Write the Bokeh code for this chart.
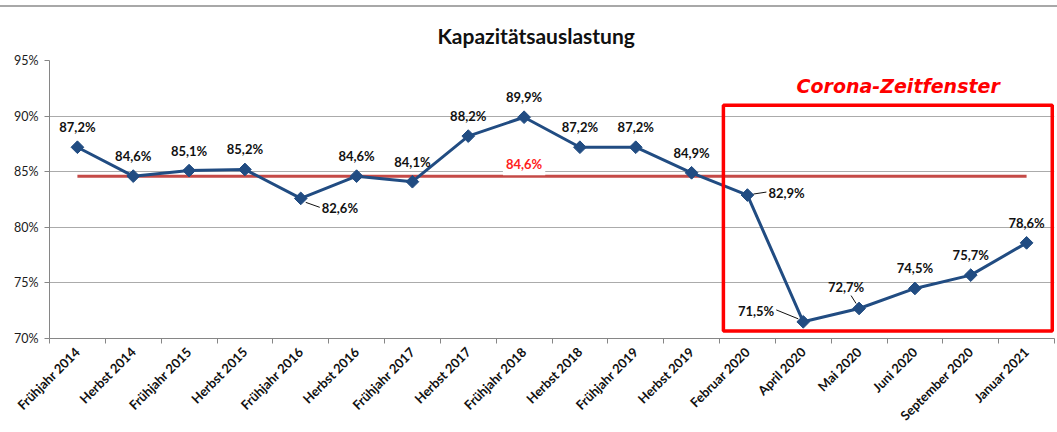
import math
from bokeh.plotting import figure
from bokeh.models import (ColumnDataSource, FixedTicker, PrintfTickFormatter,
                          Label, BoxAnnotation, Range1d)
from bokeh.core.properties import value
from bokeh.embed import file_html
from bokeh.resources import INLINE

# ---------------- data ----------------
categories = ["Frühjahr 2014", "Herbst 2014", "Frühjahr 2015", "Herbst 2015",
              "Frühjahr 2016", "Herbst 2016", "Frühjahr 2017", "Herbst 2017",
              "Frühjahr 2018", "Herbst 2018", "Frühjahr 2019", "Herbst 2019",
              "Februar 2020", "April 2020", "Mai 2020", "Juni 2020",
              "September 2020", "Januar 2021"]
values = [87.2, 84.6, 85.1, 85.2, 82.6, 84.6, 84.1, 88.2, 89.9,
          87.2, 87.2, 84.9, 82.9, 71.5, 72.7, 74.5, 75.7, 78.6]
mean_value = 84.6
y_ticks = [70, 75, 80, 85, 90, 95]
title_text = "Kapazitätsauslastung"
corona_text = "Corona-Zeitfenster"

# ---------------- layout ----------------
W, H = 1057, 432
B_LEFT, B_RIGHT, B_TOP, B_BOTTOM = 49, 3, 60, 92
FONT = "Lato"
BLUE = "#214C82"
GRID = "#ABABAB"

n = len(categories)
xs = [i + 0.5 for i in range(n)]
px_x = (W - B_LEFT - B_RIGHT) / n
px_y = (H - B_TOP - B_BOTTOM) / (y_ticks[-1] - y_ticks[0])

def fmt(v):
    return ("%.1f" % v).replace(".", ",") + "%"

labels = [fmt(v) for v in values]

# label placement (screen px, +dy = down)
dx = [0] * n
dy = [-20] * n
align = ["center"] * n
special = {4: (21, 10, "left"), 12: (21, -2, "left"),
           13: (-29, -11, "right"), 14: (-13, -21, "center")}
for i, (a, b, c) in special.items():
    dx[i], dy[i], align[i] = a, b, c
# leader lines (px offsets from point)
leaders = {4: ((5, 4), (19, 9)), 12: ((6, -1), (19, -3)),
           13: ((-5, -3), (-27, -12)), 14: ((-3, -5), (-8, -13))}

p = figure(width=W, height=H, output_backend="svg", toolbar_location=None,
           x_range=Range1d(0, n), y_range=Range1d(y_ticks[0], y_ticks[-1]),
           min_border_left=B_LEFT, min_border_right=B_RIGHT,
           min_border_top=B_TOP, min_border_bottom=B_BOTTOM,
           background_fill_color="white", border_fill_color=None,
           title=title_text)
p.styles = {"background": "linear-gradient(to bottom, #ffffff 0px, #ffffff 5px, "
                          "#A8A8A8 5px, #A8A8A8 7px, #ffffff 7px, #ffffff 100%)"}
p.outline_line_color = None
p.title.align = "left"
p.title.text_font = FONT
p.title.text_font_style = "bold"
p.title.text_font_size = "21px"
p.title.text_color = "#111111"
p.title.offset = 388
p.title.standoff = 26

# axes
xa = p.xaxis[0]
xa.ticker = FixedTicker(ticks=xs, minor_ticks=list(range(n + 1)))
xa.major_label_overrides = {x: c for x, c in zip(xs, categories)}
xa.major_label_orientation = math.pi / 4
xa.major_label_text_font = FONT
xa.major_label_text_font_style = "bold"
xa.major_label_text_font_size = "13px"
xa.major_label_text_color = "#111111"
xa.major_label_standoff = 6
xa.major_tick_in = 0
xa.major_tick_out = 0
xa.minor_tick_in = 0
xa.minor_tick_out = 5
xa.minor_tick_line_color = "#868686"
xa.axis_line_color = "#868686"

ya = p.yaxis[0]
ya.ticker = FixedTicker(ticks=y_ticks)
ya.formatter = PrintfTickFormatter(format="%d%%")
ya.major_label_text_font = FONT
ya.major_label_text_font_size = "12.5px"
ya.major_label_text_color = "#1a1a1a"
ya.major_tick_in = 0
ya.major_tick_out = 5
ya.minor_tick_line_color = None
ya.axis_line_color = "#868686"
ya.major_tick_line_color = "#868686"
ya.major_label_standoff = 6

p.xgrid.visible = False
p.ygrid.grid_line_color = GRID
p.ygrid.grid_line_width = 1

# mean line
p.line([xs[0], xs[-1]], [mean_value, mean_value], line_color="#C54A47", line_width=3)

# series
src = ColumnDataSource(dict(x=xs, y=values, lab=labels, dx=dx, dy=dy, al=align))
p.line("x", "y", source=src, line_color=BLUE, line_width=3)
p.scatter("x", "y", source=src, marker="square", angle=math.pi / 4, size=9,
          fill_color=BLUE, line_color=BLUE)

# leader lines
x0, y0, x1, y1 = [], [], [], []
for i, ((ax, ay), (bx, by)) in leaders.items():
    x0.append(xs[i] + ax / px_x); y0.append(values[i] - ay / px_y)
    x1.append(xs[i] + bx / px_x); y1.append(values[i] - by / px_y)
p.segment(x0, y0, x1, y1, line_color="#111111", line_width=1)

p.text("x", "y", text="lab", source=src, x_offset="dx", y_offset="dy",
       text_align="al", text_baseline="middle", text_font=value(FONT),
       text_font_style="bold", text_font_size="13px", text_color="#111111")

# mean label
p.add_layout(Label(x=8.5, y=mean_value, y_offset=12, text=fmt(mean_value),
                   text_align="center", text_baseline="middle",
                   text_font=FONT, text_font_style="bold", text_font_size="13px",
                   text_color="#FF2020", background_fill_color="white",
                   padding=3))

# corona box + text
p.add_layout(BoxAnnotation(left=12.07, right=17.96, bottom=70.68, top=90.98,
                           fill_alpha=0, line_color="#FF0000", line_alpha=1,
                           line_width=3.5))
p.add_layout(Label(x=15.2, y=92.68, text=corona_text, text_align="center",
                   text_baseline="middle", text_font="DejaVu Sans",
                   text_font_style="bold italic", text_font_size="19px",
                   text_color="#FF0000"))

open("out.html", "w").write(file_html(p, INLINE))
